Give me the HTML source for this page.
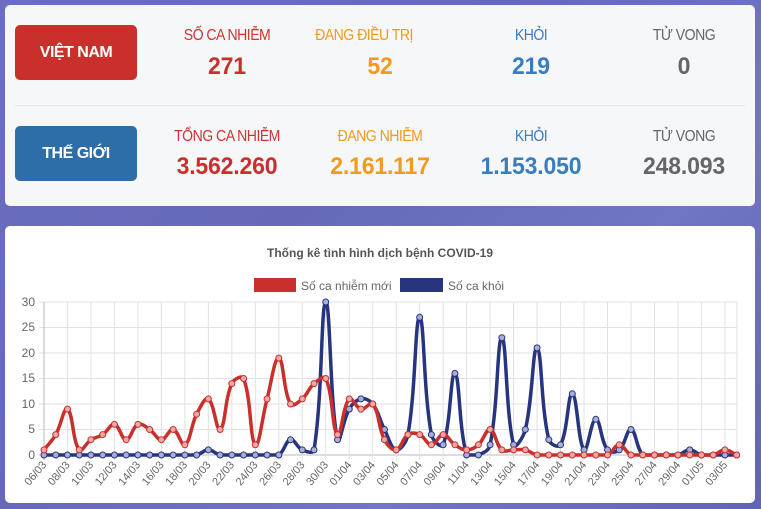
<!DOCTYPE html>
<html><head><meta charset="utf-8"><style>
body{margin:0;width:761px;height:509px;overflow:hidden;font-family:"Liberation Sans",sans-serif;
background:linear-gradient(135deg,#6c6fc0 0%,#6569b8 40%,#7075c4 70%,#5f64b4 100%);position:relative}
.card{position:absolute;left:5px;width:750px;border-radius:5px}
#top{top:5px;height:201px;background:#f6f7f9}
#bot{top:226px;height:277px;background:#fff}
.btn{position:absolute;left:15px;width:122px;height:55px;border-radius:5px;color:#fff;font-weight:bold;font-size:16px;line-height:55px;text-align:center;letter-spacing:-0.5px}
.c{position:absolute;width:170px;margin-left:-85px;text-align:center}
.l{font-size:16px;letter-spacing:-0.6px;transform:scaleX(.88)}
.v{font-size:24px;font-weight:bold;letter-spacing:-0.2px;transform:scaleX(.96)}
</style></head><body>
<div class="card" id="top"></div>
<div class="btn" style="top:25px;background:#c9302c">VIỆT NAM</div>
<div class="btn" style="top:126px;background:#2e6ea8">THẾ GIỚI</div>
<div style="position:absolute;left:15px;top:105px;width:730px;height:1px;background:#e4e6ea"></div>

<div class="c l" style="left:227px;top:27px;color:#cf3430">SỐ CA NHIỄM</div>
<div class="c v" style="left:227px;top:53px;color:#c9302c">271</div>
<div class="c l" style="left:364px;top:27px;color:#f39a1c">ĐANG ĐIỀU TRỊ</div>
<div class="c v" style="left:380px;top:53px;color:#f39a1c">52</div>
<div class="c l" style="left:531px;top:27px;color:#3a7dbf">KHỎI</div>
<div class="c v" style="left:531px;top:53px;color:#3a7dbf">219</div>
<div class="c l" style="left:684px;top:27px;color:#666">TỬ VONG</div>
<div class="c v" style="left:684px;top:53px;color:#666">0</div>

<div class="c l" style="left:227px;top:128px;color:#cf3430">TỔNG CA NHIỄM</div>
<div class="c v" style="left:227px;top:153px;color:#c9302c">3.562.260</div>
<div class="c l" style="left:380px;top:128px;color:#f39a1c">ĐANG NHIỄM</div>
<div class="c v" style="left:380px;top:153px;color:#f39a1c">2.161.117</div>
<div class="c l" style="left:531px;top:128px;color:#3a7dbf">KHỎI</div>
<div class="c v" style="left:531px;top:153px;color:#3a7dbf">1.153.050</div>
<div class="c l" style="left:684px;top:128px;color:#666">TỬ VONG</div>
<div class="c v" style="left:684px;top:153px;color:#666">248.093</div>

<div class="card" id="bot"></div>
<svg id="s" width="761" height="509" style="position:absolute;left:0;top:0" font-family="Liberation Sans, sans-serif">
<text x="380" y="257" text-anchor="middle" font-size="12" font-weight="bold" fill="#555">Thống kê tình hình dịch bệnh COVID-19</text>
<rect x="254" y="278" width="42" height="14" fill="#c9302c"/>
<text x="301" y="290" font-size="12" fill="#666">Số ca nhiễm mới</text>
<rect x="400" y="278" width="43" height="14" fill="#27357e"/>
<text x="448" y="290" font-size="12" fill="#666">Số ca khỏi</text>
<g id="grid"></g>
<g font-size="12" fill="#666" text-anchor="end">
<text x="35" y="306">30</text><text x="35" y="331">25</text><text x="35" y="357">20</text>
<text x="35" y="382">15</text><text x="35" y="408">10</text><text x="35" y="433">5</text><text x="35" y="459">0</text>
</g>
<g id="xl" font-size="11" fill="#666" text-anchor="end">
<text>06/03</text><text>08/03</text><text>10/03</text><text>12/03</text><text>14/03</text><text>16/03</text><text>18/03</text><text>20/03</text><text>22/03</text><text>24/03</text><text>26/03</text><text>28/03</text><text>30/03</text><text>01/04</text><text>03/04</text><text>05/04</text><text>07/04</text><text>09/04</text><text>11/04</text><text>13/04</text><text>15/04</text><text>17/04</text><text>19/04</text><text>21/04</text><text>23/04</text><text>25/04</text><text>27/04</text><text>29/04</text><text>01/05</text><text>03/05</text>
</g>
<g id="ser"></g>
</svg>
<script>
var X0=44,DX=11.74,Y0=455,DY=5.1;
var red=[1,4,9,1,3,4,6,3,6,5,3,5,2,8,11,5,14,15,2,11,19,10,11,14,15,4,11,9,10,3,1,4,4,2,4,2,1,2,5,1,1,1,0,0,0,0,0,0,0,2,0,0,0,0,0,0,0,0,1,0];
var blue=[0,0,0,0,0,0,0,0,0,0,0,0,0,0,1,0,0,0,0,0,0,3,1,1,30,3,9,11,10,5,1,4,27,4,2,16,0,0,2,23,2,5,21,3,2,12,1,7,1,1,5,0,0,0,0,1,0,0,0,0];
var g=document.getElementById('grid'),h='';
for(var i=0;i<=6;i++){var y=Y0-i*5*DY;h+='<line x1="39" x2="737" y1="'+y+'" y2="'+y+'" stroke="'+(i==0?'#bbb':'#e2e2e2')+'"/>';}
for(var i=0;i<30;i++){var x=X0+i*2*DX;h+='<line x1="'+x+'" x2="'+x+'" y1="302" y2="460" stroke="'+(i==0?'#bbb':'#e2e2e2')+'"/>';}
h+='<line x1="737" x2="737" y1="302" y2="455" stroke="#e2e2e2"/>';
g.innerHTML=h;
var t=document.getElementById('xl').children;
for(var i=0;i<t.length;i++){var x=X0+i*2*DX+3,y=465;t[i].setAttribute('transform','translate('+x+','+y+') rotate(-50)');}
function path(d){var p=d.map(function(v,i){return[X0+i*DX,Y0-v*DY]});var s='M'+p[0];var T=0.4;
 var cp=p.map(function(c,i){var a=p[i-1]||c,b=p[i+1]||c;var d01=Math.hypot(c[0]-a[0],c[1]-a[1]),d12=Math.hypot(b[0]-c[0],b[1]-c[1]);
 var fa=d01/(d01+d12||1),fb=d12/(d01+d12||1);fa=T*fa;fb=T*fb;
 var pp=[c[0]-fa*(b[0]-a[0]),c[1]-fa*(b[1]-a[1])],nn=[c[0]+fb*(b[0]-a[0]),c[1]+fb*(b[1]-a[1])];
 pp[1]=Math.min(Math.max(pp[1],300),Y0);nn[1]=Math.min(Math.max(nn[1],300),Y0);return[pp,nn]});
 for(var i=1;i<p.length;i++)s+=' C'+cp[i-1][1]+' '+cp[i][0]+' '+p[i];return{s:s,p:p};}
function draw(d,col,fill){var r=path(d),o='<path d="'+r.s+'" fill="none" stroke="'+col+'" stroke-width="3.5"/>';
 r.p.forEach(function(q){o+='<circle cx="'+q[0]+'" cy="'+q[1]+'" r="3" fill="'+fill+'" stroke="'+col+'" stroke-width="1"/>'});return o;}
document.getElementById('ser').innerHTML=draw(blue,'#27357e','#a9aed6')+draw(red,'#c9302c','#eaa9a6');
</script>
</body></html>
